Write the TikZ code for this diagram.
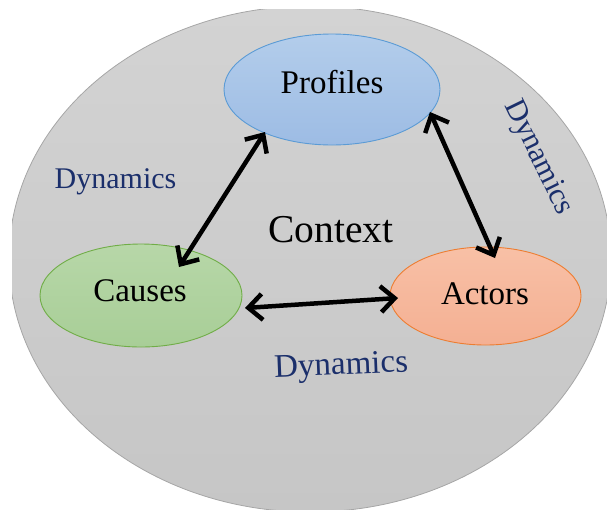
\documentclass[tikz,border=0pt]{standalone}
\usepackage{fontspec}
\setmainfont{Liberation Serif}
\usetikzlibrary{shapes.geometric,arrows.meta}
\definecolor{navy}{HTML}{1B2F6B}
\definecolor{bgtop}{HTML}{D3D3D3}
\definecolor{bgbot}{HTML}{C6C6C6}
\definecolor{bgline}{HTML}{A6A6A6}
\definecolor{ptop}{HTML}{B3CDEB}
\definecolor{pbot}{HTML}{9DBCE4}
\definecolor{pline}{HTML}{5B9BD5}
\definecolor{ctop}{HTML}{B7D7A8}
\definecolor{cbot}{HTML}{A8CE97}
\definecolor{cline}{HTML}{70AD47}
\definecolor{atop}{HTML}{F8C0A6}
\definecolor{abot}{HTML}{F4B093}
\definecolor{aline}{HTML}{ED7D31}
\begin{document}
\begin{tikzpicture}[x=1pt,y=-1pt,
  ell/.style={ellipse, line width=0.9pt, inner sep=0pt},
  lbl/.style={anchor=base, inner sep=0pt, font=\fontsize{33}{36}\selectfont},
  dyn/.style={inner sep=0pt, text=navy},
  barb/.tip={Straight Barb[length=14pt,width=26pt]},
  biarrow/.style={barb-barb, line width=4.5pt, line cap=round, line join=round}
]
\useasboundingbox (0,0) rectangle (607,509);
\begin{scope}
  \clip (12,9) rectangle (607,509);
  \node[ellipse, inner sep=0pt, minimum width=602pt, minimum height=506pt,
        draw=bgline, line width=0.8pt, top color=bgtop, bottom color=bgbot] (ctx) at (310,259) {};
\end{scope}

\node[ell, draw=pline, top color=ptop, bottom color=pbot,
      minimum width=216pt, minimum height=111pt] (P) at (332,89.5) {};
\node[ell, draw=cline, top color=ctop, bottom color=cbot,
      minimum width=202pt, minimum height=103pt] (C) at (141,295.5) {};
\node[ell, draw=aline, top color=atop, bottom color=abot,
      minimum width=191pt, minimum height=98pt] (A) at (485.5,296) {};

\node[lbl] (Pt) at (332,93) {Profiles};
\node[lbl] (Ct) at (140,301.5) {Causes};
\node[lbl] (At) at (485,304) {Actors};
\node[lbl, font=\fontsize{39.5}{44}\selectfont] (Xt) at (331,242.5) {Context};

\node[dyn, anchor=base, font=\fontsize{30}{32}\selectfont] (D1) at (115.5,188.3) {Dynamics};
\node[dyn, font=\fontsize{30.5}{32}\selectfont, rotate=-64] (D2) at (538,158) {Dynamics};
\node[dyn, anchor=base, font=\fontsize{33}{34}\selectfont, rotate=2.3] (D3) at (341.5,374.5) {Dynamics};

\draw[biarrow] ([shift={(-67,42.5)}]P.center) -- ([shift={(38,-28.5)}]C.center);
\draw[biarrow] ([shift={(98,22.5)}]P.center) -- ([shift={(9.5,-38)}]A.center);
\draw[biarrow] ([shift={(104,12.5)}]C.center) -- ([shift={(-87.5,2)}]A.center);
\end{tikzpicture}
\end{document}
